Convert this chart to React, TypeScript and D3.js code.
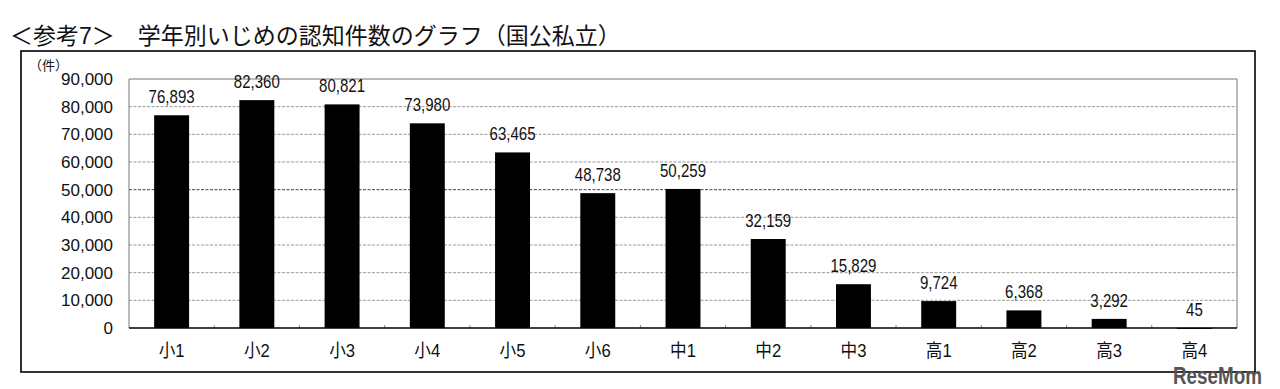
import React from "react";
import * as d3 from "d3";

const grades = ["小1", "小2", "小3", "小4", "小5", "小6", "中1", "中2", "中3", "高1", "高2", "高3", "高4"];
const counts = [76893, 82360, 80821, 73980, 63465, 48738, 50259, 32159, 15829, 9724, 6368, 3292, 45];
const yTicks = [0, 10000, 20000, 30000, 40000, 50000, 60000, 70000, 80000, 90000];

const title = "＜参考7＞　学年別いじめの認知件数のグラフ（国公私立）";
const font = "'Liberation Sans', Arial, 'Noto Sans CJK JP', sans-serif";

const W = 1280;
const H = 389;
const plot = { left: 129, right: 1237, top: 79, bottom: 328 };

export default function App() {
  const x = d3
    .scaleBand<string>()
    .domain(grades)
    .range([plot.left, plot.right])
    .paddingInner(0.59)
    .paddingOuter(0.295);
  const y = d3.scaleLinear().domain([0, 90000]).range([plot.bottom, plot.top]);
  const fmt = d3.format(",");
  const step = x.step();

  return (
    <svg width={W} height={H} style={{ position: "absolute", left: 0, top: 0, background: "#fff" }}>
      <text x={10} y={44} fontSize={23} fontFamily={font} fill="#111">
        {title}
      </text>
      {/* outer frame */}
      <rect x={21} y={51} width={1234} height={321} fill="none" stroke="#000" strokeWidth={1.6} />
      <text x={29} y={70} fontSize={13} fontFamily={font} fill="#111">
        （件）
      </text>

      {/* grid */}
      {yTicks.slice(1, -1).map((t) => (
        <line
          key={t}
          x1={plot.left}
          x2={plot.right}
          y1={y(t)}
          y2={y(t)}
          stroke={t === 50000 ? "#444" : "#999"}
          strokeWidth={1}
          strokeDasharray="3,1.5"
        />
      ))}
      {/* plot frame */}
      <path
        d={`M${plot.left},${plot.bottom}V${plot.top}H${plot.right}V${plot.bottom}`}
        fill="none"
        stroke="#777"
        strokeWidth={1}
      />

      {yTicks.map((t) => (
        <text
          key={t}
          x={113}
          y={y(t)}
          dy="0.36em"
          textAnchor="end"
          fontSize={17}
          fontFamily={font}
          fill="#111"
        >
          {fmt(t)}
        </text>
      ))}

      {/* bars */}
      {grades.map((g, i) => {
        const cx = (x(g) as number) + x.bandwidth() / 2;
        return (
          <g key={g}>
            <rect
              x={x(g)}
              y={y(counts[i])}
              width={x.bandwidth()}
              height={Math.max(plot.bottom - y(counts[i]), 1)}
              fill="#000"
            />
            <text
              transform={`translate(${cx},${y(counts[i]) - 12}) scale(0.86,1)`}
              textAnchor="middle"
              fontSize={17.5}
              fontFamily={font}
              fill="#111"
            >
              {fmt(counts[i])}
            </text>
            <text
              transform={`translate(${cx},357) scale(0.9,1)`}
              textAnchor="middle"
              fontSize={18.5}
              fontFamily={font}
              fill="#111"
            >
              {g}
            </text>
          </g>
        );
      })}

      {/* x axis with small category ticks */}
      {grades.slice(1).map((g) => (
        <line
          key={g}
          x1={(x(g) as number) - (step - x.bandwidth()) / 2}
          x2={(x(g) as number) - (step - x.bandwidth()) / 2}
          y1={plot.bottom}
          y2={plot.bottom - 3}
          stroke="#888"
        />
      ))}
      <line x1={plot.left} x2={plot.right} y1={plot.bottom} y2={plot.bottom} stroke="#000" strokeWidth={1.5} />

      <text
        transform="translate(1262,384) scale(0.82,1)"
        textAnchor="end"
        fontSize={23}
        fontWeight="bold"
        fontFamily={font}
        fill="#555"
      >
        ReseMom
      </text>
    </svg>
  );
}
